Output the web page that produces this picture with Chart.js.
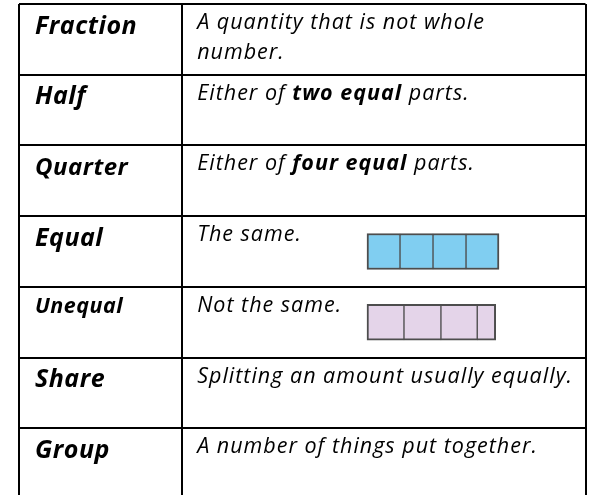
<!DOCTYPE html>
<html>
<head>
<meta charset="utf-8">
<script src="https://cdn.jsdelivr.net/npm/chart.js@4.4.0/dist/chart.umd.min.js"></script>
<style>
  html, body { margin: 0; padding: 0; background: #fff; overflow: hidden; }
  #wrap { width: 589px; height: 499px; }
</style>
</head>
<body>
<div id="wrap"><canvas id="chart"></canvas></div>
<script>
// vocabulary rows
const terms = ['Fraction', 'Half', 'Quarter', 'Equal', 'Unequal', 'Share', 'Group'];
const definitions = [
    'A quantity that is not whole\nnumber.',
    'Either of **two equal** parts.',
    'Either of **four equal** parts.',
    'The same.',
    'Not the same.',
    'Splitting an amount usually equally.',
    'A number of things put together.'
];
// widths of the parts in the two strip pictures (1 = one equal part)
const equalParts = [1, 1, 1, 1];
const unequalParts = [1.12, 1.12, 1.1, 0.56];

// where the term column ends, as % of table width
const columnSplit = 28.8;

const partDatasets = equalParts.map((v, k) => ({
    label: 'Part ' + (k + 1),
    data: terms.map(t => t === 'Equal' ? equalParts[k] : (t === 'Unequal' ? unequalParts[k] : null)),
    xAxisID: 'x2',
    yAxisID: 'y',
    backgroundColor: terms.map(t => t === 'Equal' ? '#80cef1' : '#e4d4e9'),
    borderColor: '#4d4d4d',
    borderWidth: {
        top: 2,
        bottom: 2,
        left: k === 0 ? 2 : 1,
        right: k === equalParts.length - 1 ? 2 : 1
    },
    borderSkipped: false,
    barThickness: 36
}));

// terms are not all the same size in the original sheet
function termSize(term) {
    if (term === 'Unequal') return 21.5;
    if (term === 'Quarter') return 24;
    return 25;
}

const cellText = {
    id: 'cellText',
    afterDatasetsDraw(chart) {
        const { ctx, scales: { x, y } } = chart;
        const band = y.getPixelForValue(1) - y.getPixelForValue(0);
        const termX = x.getPixelForValue(0) + 16;
        const defX = x.getPixelForValue(columnSplit) + 15;
        ctx.save();
        ctx.fillStyle = '#000';
        ctx.textBaseline = 'alphabetic';
        terms.forEach((term, i) => {
            const top = y.getPixelForValue(i) - band / 2;
            ctx.letterSpacing = '0.5px';
            ctx.font = `italic bold ${termSize(term)}px "Open Sans"`;
            ctx.fillText(term, termX, top + (term === 'Unequal' ? 26 : 29.5));
            ctx.letterSpacing = '1px';
            definitions[i].split('\n').forEach((line, j) => {
                let cx = defX;
                line.split('**').forEach((seg, s) => {
                    ctx.font = (s % 2 ? 'italic bold ' : 'italic ') + '21.5px "Open Sans"';
                    ctx.fillText(seg, cx, top + 25 + j * 30);
                    cx += ctx.measureText(seg).width;
                });
            });
        });
        ctx.restore();
    }
};

new Chart(document.getElementById('chart'), {
    type: 'bar',
    data: {
        labels: terms,
        datasets: partDatasets
    },
    options: {
        indexAxis: 'y',
        responsive: true,
        maintainAspectRatio: false,
        animation: false,
        layout: {
            padding: { left: 19, right: 3.5, top: 4, bottom: 0 }
        },
        plugins: {
            legend: { display: false },
            tooltip: { enabled: false }
        },
        scales: {
            x: {
                type: 'linear',
                position: 'bottom',
                min: 0,
                max: 100,
                afterBuildTicks: scale => {
                    scale.ticks = [0, columnSplit, 100].map(v => ({ value: v }));
                },
                ticks: { display: false },
                grid: { color: '#000', lineWidth: 2, drawTicks: false },
                border: { display: false }
            },
            x2: {
                type: 'linear',
                display: false,
                stacked: true,
                min: -10.545,
                max: 6.621
            },
            y: {
                type: 'category',
                stacked: true,
                offset: true,
                ticks: { display: false },
                grid: { offset: true, color: '#000', lineWidth: 2, drawTicks: false },
                border: { display: false }
            }
        }
    },
    plugins: [cellText]
});
</script>
</body>
</html>
